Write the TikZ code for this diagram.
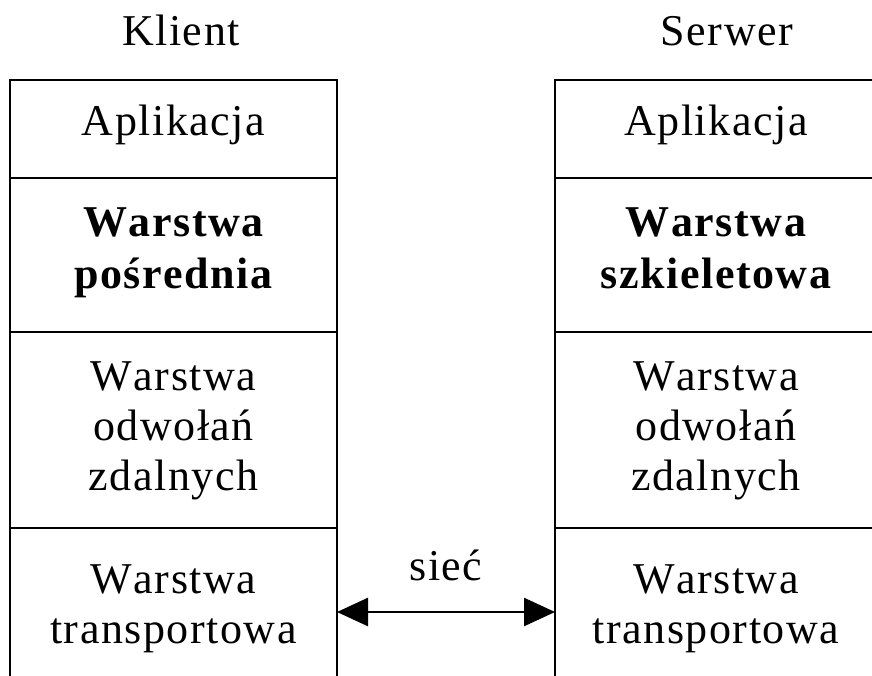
\documentclass[tikz,border=0pt]{standalone}
\usepackage{fontspec}
\setmainfont{Liberation Serif}[LetterSpace=3.5,Kerning=Off]
\usetikzlibrary{arrows.meta}
\begin{document}
\begin{tikzpicture}[x=1pt,y=-1pt,
  frame/.style={line width=2.6pt},
  lbl/.style={anchor=base,inner sep=0pt,font=\fontsize{44}{52}\selectfont},
  blbl/.style={lbl,font=\fontsize{44}{52}\selectfont\bfseries},
  conn/.style={line width=2.6pt,{Triangle[length=31pt,width=28pt]}-{Triangle[length=31pt,width=28pt]}}]
\useasboundingbox (0,0) rectangle (872,675);
% columns
\draw[frame] (10,690) -- (10,80) -- (337,80) -- (337,690);
\draw[frame] (10,178) -- (337,178);
\draw[frame] (10,332) -- (337,332);
\draw[frame] (10,528) -- (337,528);
\draw[frame] (555,690) -- (555,80) -- (880,80);
\draw[frame] (555,178) -- (880,178);
\draw[frame] (555,332) -- (880,332);
\draw[frame] (555,528) -- (880,528);
% headers
\node[lbl] (klient) at (181,45) {Klient};
\node[lbl] (serwer) at (727,45) {Serwer};
% left column
\node[lbl] (la) at (173.5,135) {Aplikacja};
\node[blbl] (lb1) at (173.5,236) {Warstwa};
\node[blbl] (lb2) at (173.5,288) {pośrednia};
\node[lbl] (lc1) at (173.5,390) {Warstwa};
\node[lbl] (lc2) at (173.5,440) {odwołań};
\node[lbl] (lc3) at (173.5,490) {zdalnych};
\node[lbl] (ld1) at (173.5,593) {Warstwa};
\node[lbl] (ld2) at (173.5,643) {transportowa};
% right column
\node[lbl] (ra) at (716,135) {Aplikacja};
\node[blbl] (rb1) at (716,236) {Warstwa};
\node[blbl] (rb2) at (716,288) {szkieletowa};
\node[lbl] (rc1) at (716,390) {Warstwa};
\node[lbl] (rc2) at (716,440) {odwołań};
\node[lbl] (rc3) at (716,490) {zdalnych};
\node[lbl] (rd1) at (716,593) {Warstwa};
\node[lbl] (rd2) at (716,643) {transportowa};
% network
\coordinate (pl) at (337,612);
\coordinate (pr) at (555,612);
\node[lbl] (siec) at (446,580) {sieć};
\draw[conn] (pl) -- (pr);
\end{tikzpicture}
\end{document}
